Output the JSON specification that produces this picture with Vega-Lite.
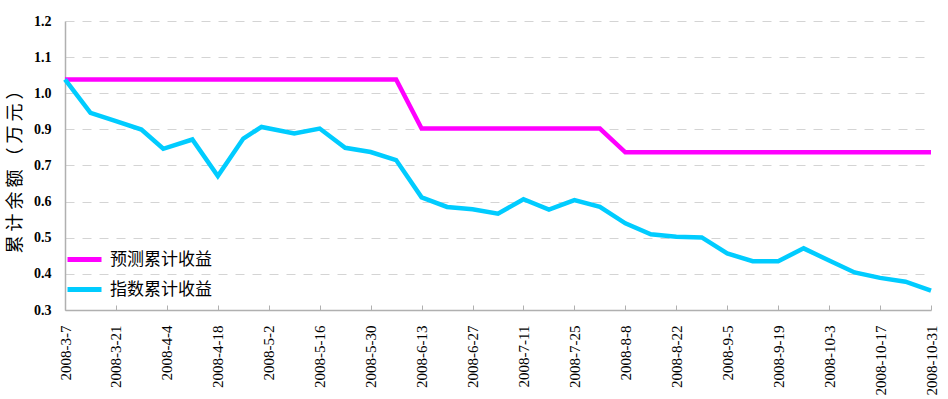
{
  "$schema": "https://vega.github.io/schema/vega-lite/v6.json",
  "width": 866,
  "height": 289,
  "autosize": {"type": "none"},
  "padding": {"left": 65, "top": 21, "right": 17, "bottom": 89},
  "background": "white",
  "config": {"view": {"stroke": null}},
  "data": {
    "values": [
      {"date": "2008-03-07", "预测累计收益": 1.018, "指数累计收益": 1.018},
      {"date": "2008-03-14", "预测累计收益": 1.018, "指数累计收益": 0.914},
      {"date": "2008-03-21", "预测累计收益": 1.018, "指数累计收益": 0.888},
      {"date": "2008-03-28", "预测累计收益": 1.018, "指数累计收益": 0.862},
      {"date": "2008-04-03", "预测累计收益": 1.018, "指数累计收益": 0.802},
      {"date": "2008-04-11", "预测累计收益": 1.018, "指数累计收益": 0.831},
      {"date": "2008-04-18", "预测累计收益": 1.018, "指数累计收益": 0.717},
      {"date": "2008-04-25", "预测累计收益": 1.018, "指数累计收益": 0.834},
      {"date": "2008-04-30", "预测累计收益": 1.018, "指数累计收益": 0.870},
      {"date": "2008-05-09", "预测累计收益": 1.018, "指数累计收益": 0.850},
      {"date": "2008-05-16", "预测累计收益": 1.018, "指数累计收益": 0.865},
      {"date": "2008-05-23", "预测累计收益": 1.018, "指数累计收益": 0.805},
      {"date": "2008-05-30", "预测累计收益": 1.018, "指数累计收益": 0.792},
      {"date": "2008-06-06", "预测累计收益": 1.018, "指数累计收益": 0.767},
      {"date": "2008-06-13", "预测累计收益": 0.865, "指数累计收益": 0.651},
      {"date": "2008-06-20", "预测累计收益": 0.865, "指数累计收益": 0.621},
      {"date": "2008-06-27", "预测累计收益": 0.865, "指数累计收益": 0.614},
      {"date": "2008-07-04", "预测累计收益": 0.865, "指数累计收益": 0.600},
      {"date": "2008-07-11", "预测累计收益": 0.865, "指数累计收益": 0.645},
      {"date": "2008-07-18", "预测累计收益": 0.865, "指数累计收益": 0.613},
      {"date": "2008-07-25", "预测累计收益": 0.865, "指数累计收益": 0.642},
      {"date": "2008-08-01", "预测累计收益": 0.865, "指数累计收益": 0.621},
      {"date": "2008-08-08", "预测累计收益": 0.791, "指数累计收益": 0.570},
      {"date": "2008-08-15", "预测累计收益": 0.791, "指数累计收益": 0.536},
      {"date": "2008-08-22", "预测累计收益": 0.791, "指数累计收益": 0.528},
      {"date": "2008-08-29", "预测累计收益": 0.791, "指数累计收益": 0.526},
      {"date": "2008-09-05", "预测累计收益": 0.791, "指数累计收益": 0.476},
      {"date": "2008-09-12", "预测累计收益": 0.791, "指数累计收益": 0.452},
      {"date": "2008-09-19", "预测累计收益": 0.791, "指数累计收益": 0.452},
      {"date": "2008-09-26", "预测累计收益": 0.791, "指数累计收益": 0.492},
      {"date": "2008-10-03", "预测累计收益": 0.791, "指数累计收益": 0.454},
      {"date": "2008-10-10", "预测累计收益": 0.791, "指数累计收益": 0.417},
      {"date": "2008-10-17", "预测累计收益": 0.791, "指数累计收益": 0.400},
      {"date": "2008-10-24", "预测累计收益": 0.791, "指数累计收益": 0.388},
      {"date": "2008-10-31", "预测累计收益": 0.791, "指数累计收益": 0.360}
    ]
  },
  "transform": [
    {"fold": ["预测累计收益", "指数累计收益"], "as": ["series", "value"]}
  ],
  "mark": {"type": "line", "strokeWidth": 4.5, "strokeJoin": "miter", "strokeCap": "butt"},
  "encoding": {
    "x": {
      "field": "date",
      "type": "temporal",
      "scale": {
        "type": "utc",
        "domain": [
          {"year": 2008, "month": 3, "date": 7, "utc": true},
          {"year": 2008, "month": 10, "date": 31, "utc": true}
        ]
      },
      "axis": {
        "title": null,
        "values": [
          {"year": 2008, "month": 3, "date": 7, "utc": true},
          {"year": 2008, "month": 3, "date": 21, "utc": true},
          {"year": 2008, "month": 4, "date": 4, "utc": true},
          {"year": 2008, "month": 4, "date": 18, "utc": true},
          {"year": 2008, "month": 5, "date": 2, "utc": true},
          {"year": 2008, "month": 5, "date": 16, "utc": true},
          {"year": 2008, "month": 5, "date": 30, "utc": true},
          {"year": 2008, "month": 6, "date": 13, "utc": true},
          {"year": 2008, "month": 6, "date": 27, "utc": true},
          {"year": 2008, "month": 7, "date": 11, "utc": true},
          {"year": 2008, "month": 7, "date": 25, "utc": true},
          {"year": 2008, "month": 8, "date": 8, "utc": true},
          {"year": 2008, "month": 8, "date": 22, "utc": true},
          {"year": 2008, "month": 9, "date": 5, "utc": true},
          {"year": 2008, "month": 9, "date": 19, "utc": true},
          {"year": 2008, "month": 10, "date": 3, "utc": true},
          {"year": 2008, "month": 10, "date": 17, "utc": true},
          {"year": 2008, "month": 10, "date": 31, "utc": true}
        ],
        "labelExpr": "utcFormat(datum.value, '%Y-%-m-%-d')",
        "labelAngle": 270,
        "labelFont": "Liberation Serif",
        "labelFontSize": 15,
        "labelColor": "black",
        "labelPadding": 20,
        "labelOverlap": false,
        "labelFlush": false,
        "grid": false,
        "domainColor": "#b0b0b0",
        "domainWidth": 1.5,
        "tickColor": "#b0b0b0",
        "tickSize": -5,
        "tickWidth": 1
      }
    },
    "y": {
      "field": "value",
      "type": "quantitative",
      "scale": {"domain": [0.3, 1.2], "nice": false, "zero": false},
      "axis": {
        "title": "累 计 余 额 （ 万 元 ）",
        "titleFont": "Noto Sans CJK SC",
        "titleFontSize": 18,
        "titleFontWeight": "normal",
        "titleColor": "black",
        "titleAngle": 270,
        "titleBaseline": "middle",
        "titleAlign": "center",
        "titleX": -50,
        "titleY": 146,
        "values": [0.3, 0.4125, 0.525, 0.6375, 0.75, 0.8625, 0.975, 1.0875, 1.2],
        "labelExpr": "format(datum.value - 0.0001, '.1f')",
        "labelFont": "Liberation Serif",
        "labelFontSize": 14,
        "labelFontWeight": "bold",
        "labelColor": "black",
        "labelPadding": 14,
        "ticks": false,
        "domainColor": "#b0b0b0",
        "domainWidth": 1.5,
        "grid": true,
        "gridColor": "#d4d4d4",
        "gridDash": [9, 8],
        "gridWidth": 1
      }
    },
    "color": {
      "field": "series",
      "type": "nominal",
      "scale": {"domain": ["预测累计收益", "指数累计收益"], "range": ["#FF00FF", "#00CCFF"]},
      "legend": {
        "title": null,
        "orient": "none",
        "legendX": 0,
        "legendY": 219,
        "padding": 0,
        "symbolType": "stroke",
        "symbolSize": 1156,
        "symbolStrokeWidth": 5,
        "rowPadding": 0,
        "labelOffset": 6,
        "labelFont": "Noto Sans CJK SC",
        "labelFontSize": 17,
        "labelColor": "black"
      }
    }
  }
}
